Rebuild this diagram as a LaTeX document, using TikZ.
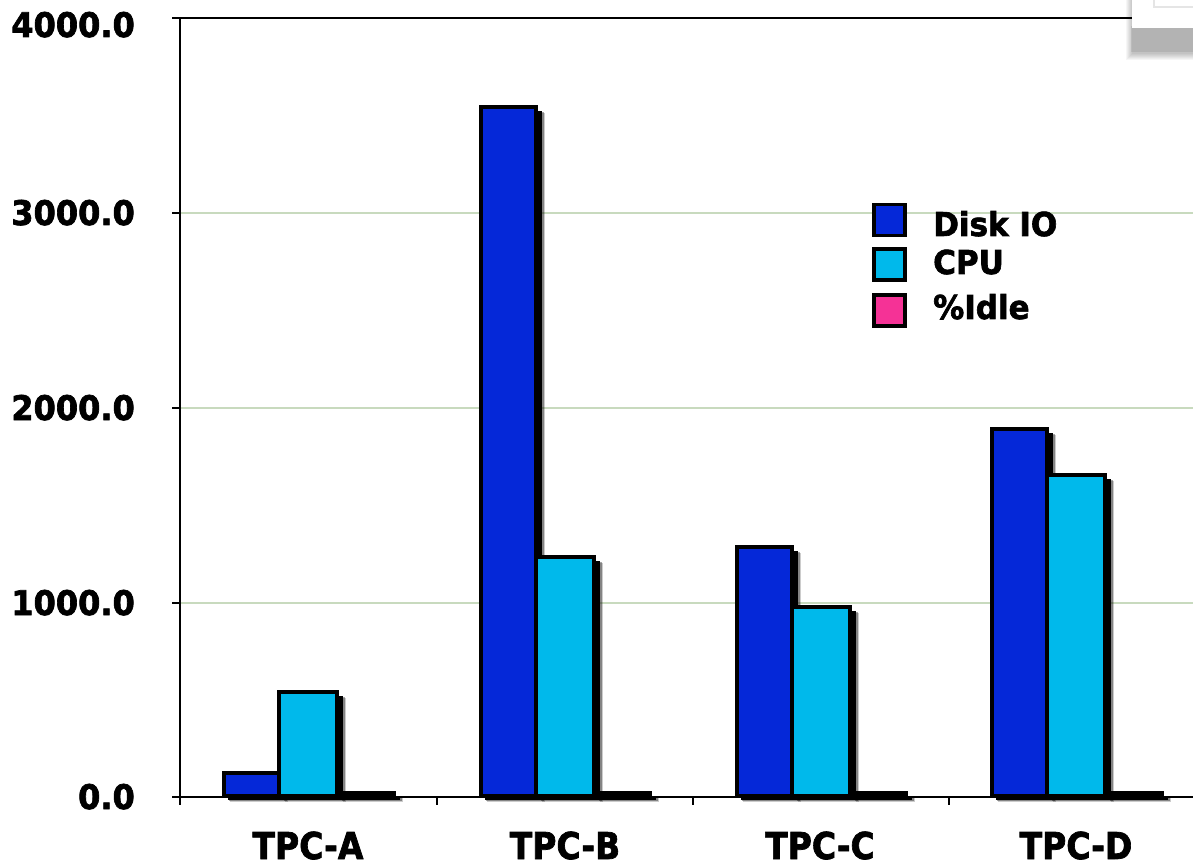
\documentclass[tikz,border=0pt]{standalone}
\usepackage{fontspec}
\setmainfont{DejaVu Sans}[BoldFeatures={FakeBold=2}]
\definecolor{gridc}{RGB}{200,218,190}
\definecolor{diskc}{RGB}{5,40,216}
\definecolor{cpuc}{RGB}{0,185,235}
\definecolor{idlec}{RGB}{245,50,150}
\newcommand\tallx[1]{\scalebox{1}[1.12]{#1}}
\newcommand\tally[1]{\scalebox{1}[1.06]{#1}}
\begin{document}
\begin{tikzpicture}[x=1pt,y=-1pt,
  gridline/.style={draw=gridc, line width=2.5pt},
  axisline/.style={draw=black, line width=2.5pt},
  barbox/.style={draw=black, line width=3.5pt},
  ylab/.style={anchor=base east, font=\fontsize{32}{36}\selectfont\bfseries, inner sep=0pt},
  xlab/.style={anchor=base, font=\fontsize{33}{38}\selectfont\bfseries, inner sep=0pt},
  leglab/.style={anchor=base west, font=\fontsize{31}{36}\selectfont\bfseries, inner sep=0pt},
  legbox/.style={draw=black, line width=3.5pt, minimum width=31pt, minimum height=31pt, inner sep=0pt}]
\useasboundingbox (0,0) rectangle (1193,866);
\fill[white] (0,0) rectangle (1193,866);

% top-right decoration (cropped slide element)
\foreach \i in {0,...,6} \fill[black, opacity=0.035] (1126+\i,0) rectangle (1193,60-\i);
\fill[black, opacity=0.08] (1131,26) rectangle (1193,52);

% grid lines
\foreach \yy in {213,408,603} \draw[gridline] (181,\yy) -- (1193,\yy);
% top line
\draw[axisline] (172,18) -- (1133,18);
% white box over top-right
\fill[white] (1132,0) rectangle (1193,28);
\draw[black!10, line width=1.5pt] (1154,-1) -- (1154,7) -- (1194,7);

% axes
\draw[axisline] (180,18) -- (180,805);
\draw[axisline] (172,797) -- (1193,797);
\foreach \yy in {213,408,603} \draw[axisline] (172,\yy) -- (180,\yy);
\foreach \xx in {437,693,949} \draw[axisline] (\xx,797) -- (\xx,805);

% y labels
\node[ylab] (y4) at (135,37) {\tally{4000.0}};
\node[ylab] (y3) at (135,225) {\tally{3000.0}};
\node[ylab] (y2) at (135,420) {\tally{2000.0}};
\node[ylab] (y1) at (135,615) {\tally{1000.0}};
\node[ylab] (y0) at (135,809) {\tally{0.0}};

% bar shadows
\foreach \xa/\xb/\tp in {
  224/279/773, 279/337/692, 337/394/792,
  481/536/107, 536/594/557, 594/650/792,
  737/792/547, 792/850/607, 850/906/792,
  992/1047/429, 1047/1105/475, 1105/1162/792} {
  \fill[black, opacity=0.2] (\xa+6,\tp+6) rectangle (\xb+9,801.5);
  \fill[black, opacity=0.35] (\xa+5,\tp+5) rectangle (\xb+7.5,800.5);
  \fill[black] (\xa+4,\tp+4) rectangle (\xb+6,800);
}
% bars
\foreach \xa/\xb/\tp/\cc in {
  224/279/773/diskc, 279/337/692/cpuc, 337/394/792.5/idlec,
  481/536/107/diskc, 536/594/557/cpuc, 594/650/792.5/idlec,
  737/792/547/diskc, 792/850/607/cpuc, 850/906/792.5/idlec,
  992/1047/429/diskc, 1047/1105/475/cpuc, 1105/1162/792.5/idlec} {
  \filldraw[barbox, fill=\cc] (\xa,\tp) rectangle (\xb,796);
}

% x labels
\node[xlab] (ta) at (308,859) {\tallx{TPC-A}};
\node[xlab] (tb) at (565,859) {\tallx{TPC-B}};
\node[xlab] (tc) at (820,859) {\tallx{TPC-C}};
\node[xlab] (td) at (1076,859) {\tallx{TPC-D}};

% legend
\node[legbox, fill=diskc] (l1) at (889.5,220) {};
\node[legbox, fill=cpuc] (l2) at (889.5,264.5) {};
\node[legbox, fill=idlec] (l3) at (889.5,310.5) {};
\node[leglab] (t1) at (933,236) {\tally{Disk IO}};
\node[leglab] (t2) at (933,274) {\tally{CPU}};
\node[leglab] (t3) at (933,319) {\tally{\%Idle}};
\end{tikzpicture}
\end{document}
